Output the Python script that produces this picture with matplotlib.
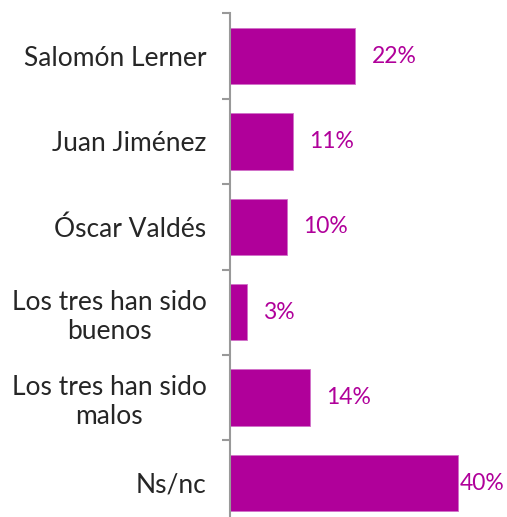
import matplotlib
matplotlib.use("Agg")
import matplotlib.pyplot as plt

categories = ["Salomón Lerner", "Juan Jiménez", "Óscar Valdés",
              "Los tres han sido\nbuenos", "Los tres han sido\nmalos", "Ns/nc"]
values = [22, 11, 10, 3, 14, 40]
value_labels = ["22%", "11%", "10%", "3%", "14%", "40%"]

W, H = 507, 517
fig = plt.figure(figsize=(W / 100, H / 100), dpi=100)
ax = fig.add_axes([230 / W, -8.7 / H, (W - 230) / W, 512.4 / H])

bar_color = "#B0009A"
n = len(categories)
ypos = list(range(n))
ax.barh(ypos, values, height=0.66, color=bar_color, edgecolor="#D070C8", linewidth=0.6)
ax.set_ylim(n - 0.5, -0.5)
px_per_unit = 5.7
ax.set_xlim(0, (W - 230) / px_per_unit)

for y, v, lab in zip(ypos, values, value_labels):
    xtext = v + 16 / px_per_unit
    limit = (W - 230 - 45) / px_per_unit
    if xtext > limit:
        xtext = v + 2 / px_per_unit
    ax.text(xtext, y, lab, va="center", ha="left", fontsize=16.5, color=bar_color,
            family=["Lato", "DejaVu Sans"])

ax.set_yticks([i - 0.5 for i in range(n + 1)])
ax.set_yticklabels([])
ax.set_yticks(ypos, minor=True)
ax.set_yticklabels(categories, minor=True, fontsize=19, color="#262626",
                   multialignment="center", family=["Lato", "DejaVu Sans"])
ax.tick_params(axis="y", which="major", length=5.8, width=1.5, color="#999999", direction="out")
ax.tick_params(axis="y", which="minor", length=0, pad=17)
ax.set_xticks([])
for s in ["top", "right", "bottom"]:
    ax.spines[s].set_visible(False)
ax.spines["left"].set_color("#999999")
ax.spines["left"].set_linewidth(1.5)

fig.savefig("out.png", dpi=100)
